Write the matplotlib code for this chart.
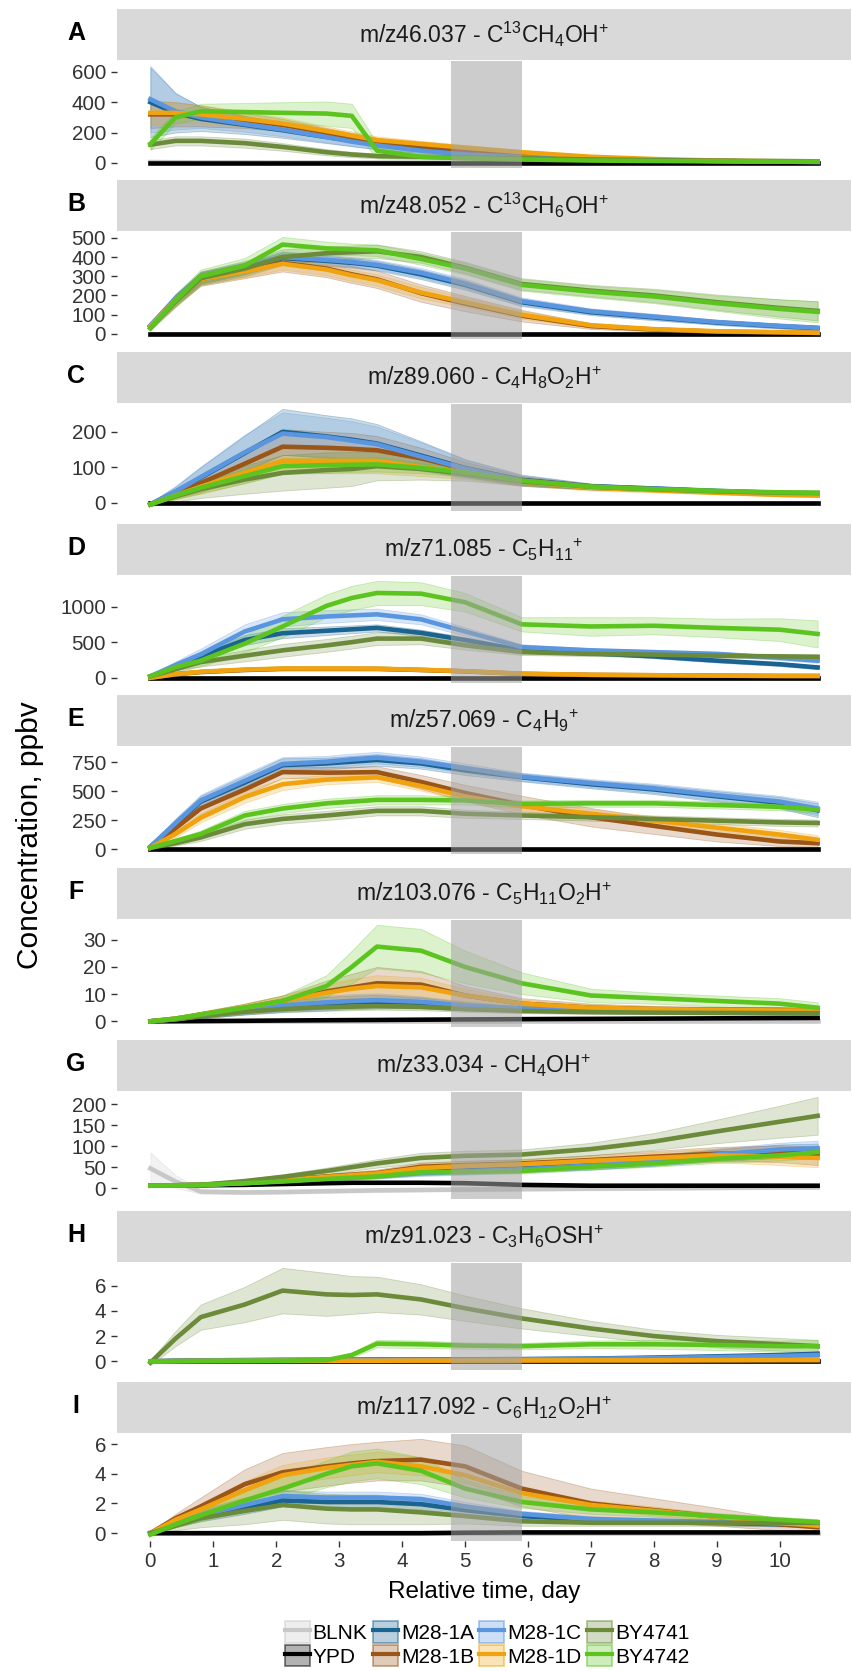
import matplotlib
matplotlib.use("Agg")
import matplotlib.pyplot as plt
from matplotlib.patches import Patch
from matplotlib.lines import Line2D
from matplotlib.colors import to_rgba

plt.rcParams["font.family"] = ["Liberation Sans", "DejaVu Sans"]
plt.rcParams["mathtext.fontset"] = "custom"
plt.rcParams["mathtext.rm"] = "Liberation Sans"
plt.rcParams["mathtext.it"] = "Liberation Sans:italic"
plt.rcParams["mathtext.bf"] = "Liberation Sans:bold"
plt.rcParams["mathtext.default"] = "rm"

# sampling days
DAYS = [0, 0.4, 0.8, 1.5, 2.1, 2.8, 3.2, 3.6, 4.3, 5.0, 5.9, 7.0, 8.0, 9.0, 10.0, 10.6]
SERIES = ["BLNK", "YPD", "M28-1A", "M28-1B", "M28-1C", "M28-1D", "BY4741", "BY4742"]
COLORS = {
    "BLNK": "#c8c8c8",
    "YPD": "#000000",
    "M28-1A": "#1b6391",
    "M28-1B": "#9a5518",
    "M28-1C": "#5a96e0",
    "M28-1D": "#f0a30f",
    "BY4741": "#6b8a3a",
    "BY4742": "#5cc41e",
}
ZERO = [0, 0, 0, 0, 0, 0, 0, 0, 0, 0, 0, 0, 0, 0, 0, 0]
THIN = [1, 1, 1, 1, 1, 1, 1, 1, 1, 1, 1, 1, 1, 1, 1, 1]

# A  m/z46.037
a_blnk = [5, 4, 3, 3, 2, 2, 2, 2, 2, 2, 2, 2, 2, 2, 2, 2]
a_blnk_sd = [4, 3, 3, 2, 2, 2, 2, 2, 2, 2, 2, 2, 2, 2, 2, 2]
a_ypd = [0, 0, 0, 0, 0, 0, 0, 0, 0, 0, 0, 0, 0, 0, 0, 0]
a_ypd_sd = [2, 2, 2, 2, 2, 2, 2, 2, 2, 2, 2, 2, 2, 2, 2, 2]
a_m1a = [400, 330, 290, 250, 215, 170, 145, 120, 85, 60, 40, 25, 18, 12, 8, 6]
a_m1a_sd = [230, 130, 80, 60, 50, 40, 35, 30, 20, 15, 10, 8, 6, 5, 4, 4]
a_m1b = [320, 320, 310, 280, 250, 200, 170, 140, 110, 85, 60, 35, 20, 12, 8, 6]
a_m1b_sd = [90, 80, 70, 50, 40, 30, 28, 25, 20, 15, 12, 8, 6, 5, 4, 4]
a_m1c = [420, 340, 300, 255, 220, 170, 140, 115, 80, 55, 38, 24, 17, 12, 8, 6]
a_m1c_sd = [220, 120, 70, 50, 45, 35, 30, 25, 18, 14, 10, 8, 6, 5, 4, 4]
a_m1d = [330, 330, 320, 290, 260, 210, 180, 150, 125, 100, 70, 40, 25, 15, 10, 8]
a_m1d_sd = [80, 70, 60, 50, 40, 30, 28, 25, 20, 18, 14, 10, 7, 5, 4, 4]
a_by41 = [120, 145, 145, 130, 105, 70, 55, 45, 40, 35, 30, 22, 18, 14, 12, 10]
a_by41_sd = [30, 30, 30, 30, 25, 20, 18, 15, 12, 10, 8, 6, 5, 5, 4, 4]
a_by42 = [125, 300, 340, 335, 330, 325, 310, 80, 40, 30, 22, 15, 12, 10, 8, 8]
a_by42_sd = [40, 40, 50, 60, 70, 80, 80, 50, 15, 10, 8, 6, 5, 5, 4, 4]

# B  m/z48.052
b_blnk = [2, 2, 2, 2, 2, 2, 2, 2, 2, 2, 2, 2, 2, 2, 2, 2]
b_ypd = [0, 0, 0, 0, 0, 0, 0, 0, 0, 0, 0, 0, 0, 0, 0, 0]
b_m1a = [40, 180, 290, 340, 395, 380, 370, 355, 310, 255, 165, 113, 86, 59, 40, 30]
b_m1a_sd = [10, 25, 30, 30, 30, 25, 25, 25, 25, 25, 20, 15, 15, 12, 12, 12]
b_m1b = [40, 175, 285, 330, 370, 340, 310, 284, 212, 158, 95, 41, 23, 12, 8, 5]
b_m1b_sd = [10, 30, 35, 40, 45, 45, 45, 45, 45, 40, 30, 15, 10, 8, 6, 5]
b_m1c = [45, 185, 295, 345, 400, 385, 375, 360, 318, 262, 170, 118, 90, 62, 42, 32]
b_m1c_sd = [10, 25, 30, 30, 30, 25, 25, 25, 25, 25, 20, 15, 15, 12, 12, 12]
b_m1d = [40, 175, 285, 325, 365, 335, 305, 280, 215, 165, 100, 45, 25, 14, 9, 6]
b_m1d_sd = [10, 25, 30, 30, 30, 30, 30, 30, 30, 25, 20, 12, 8, 6, 5, 5]
b_by41 = [30, 170, 290, 340, 400, 420, 425, 430, 400, 345, 260, 225, 200, 165, 135, 120]
b_by41_sd = [10, 30, 35, 40, 40, 35, 35, 35, 30, 30, 30, 30, 35, 40, 45, 50]
b_by42 = [30, 175, 300, 355, 465, 445, 440, 435, 390, 340, 255, 220, 195, 160, 130, 115]
b_by42_sd = [10, 30, 35, 40, 40, 35, 30, 30, 30, 30, 30, 30, 35, 40, 50, 55]

# C  m/z89.060
c_blnk = [0, 0, 0, 0, 0, 0, 0, 0, 0, 0, 0, 0, 0, 0, 0, 0]
c_ypd = [0, 0, 0, 0, 0, 0, 0, 0, 0, 0, 0, 0, 0, 0, 0, 0]
c_m1a = [-5, 30, 70, 140, 200, 187, 178, 167, 133, 98, 64, 46, 40, 33, 27, 25]
c_m1a_sd = [5, 15, 30, 50, 65, 60, 60, 55, 40, 25, 15, 8, 6, 5, 5, 5]
c_m1b = [-5, 25, 55, 110, 158, 155, 152, 148, 125, 95, 63, 45, 38, 30, 24, 22]
c_m1b_sd = [5, 12, 25, 40, 50, 45, 45, 40, 30, 20, 12, 8, 6, 5, 5, 5]
c_m1c = [-5, 32, 72, 142, 195, 185, 175, 165, 130, 96, 62, 45, 39, 32, 26, 24]
c_m1c_sd = [5, 15, 30, 50, 60, 55, 55, 50, 40, 25, 15, 8, 6, 5, 5, 5]
c_m1d = [-5, 20, 45, 85, 118, 118, 118, 118, 100, 85, 60, 42, 35, 28, 22, 20]
c_m1d_sd = [5, 10, 20, 30, 35, 35, 35, 35, 25, 18, 12, 8, 6, 5, 5, 5]
c_by41 = [-5, 18, 38, 65, 84, 92, 95, 103, 95, 82, 60, 45, 38, 32, 28, 27]
c_by41_sd = [5, 15, 25, 40, 50, 50, 48, 40, 30, 20, 12, 8, 6, 5, 5, 5]
c_by42 = [-5, 20, 42, 75, 103, 106, 107, 108, 98, 85, 62, 45, 38, 33, 29, 28]
c_by42_sd = [5, 10, 15, 20, 22, 22, 20, 20, 15, 12, 8, 6, 5, 5, 5, 5]

# D  m/z71.085
d_blnk = [0, 0, 0, 0, 0, 0, 0, 0, 0, 0, 0, 0, 0, 0, 0, 0]
d_ypd = [0, 0, 0, 0, 0, 0, 0, 0, 0, 0, 0, 0, 0, 0, 0, 0]
d_m1a = [20, 160, 300, 530, 625, 660, 680, 700, 630, 530, 385, 345, 300, 240, 190, 145]
d_m1a_sd = [10, 40, 60, 70, 70, 60, 55, 50, 45, 40, 30, 25, 25, 25, 25, 25]
d_m1b = [0, 50, 80, 110, 125, 125, 125, 125, 110, 90, 55, 40, 35, 30, 25, 25]
d_m1b_sd = [5, 10, 15, 20, 20, 20, 20, 20, 20, 15, 10, 10, 10, 10, 10, 10]
d_m1c = [20, 180, 330, 650, 820, 860, 875, 890, 820, 650, 430, 385, 360, 335, 280, 240]
d_m1c_sd = [10, 50, 80, 100, 100, 90, 85, 80, 70, 60, 40, 30, 30, 30, 30, 30]
d_m1d = [0, 50, 85, 115, 130, 130, 130, 128, 112, 92, 58, 42, 36, 30, 26, 25]
d_m1d_sd = [5, 10, 15, 20, 20, 20, 20, 20, 20, 15, 10, 10, 10, 10, 10, 10]
d_by41 = [20, 120, 220, 310, 385, 455, 500, 550, 550, 455, 360, 335, 325, 310, 300, 295]
d_by41_sd = [10, 40, 60, 80, 90, 90, 90, 90, 80, 60, 40, 30, 30, 30, 30, 30]
d_by42 = [20, 150, 240, 480, 720, 1010, 1120, 1190, 1180, 1060, 750, 720, 730, 700, 675, 615]
d_by42_sd = [10, 40, 80, 120, 150, 160, 170, 170, 160, 130, 100, 130, 120, 130, 160, 190]

# E  m/z57.069
e_blnk = [0, 0, 0, 0, 0, 0, 0, 0, 0, 0, 0, 0, 0, 0, 0, 0]
e_ypd = [0, 0, 0, 0, 0, 0, 0, 0, 0, 0, 0, 0, 0, 0, 0, 0]
e_m1a = [20, 215, 410, 575, 725, 740, 755, 770, 740, 680, 620, 560, 515, 455, 400, 335]
e_m1a_sd = [10, 40, 50, 60, 60, 50, 50, 50, 45, 40, 35, 35, 40, 45, 50, 60]
e_m1b = [10, 180, 350, 515, 665, 660, 662, 665, 580, 485, 380, 275, 200, 125, 65, 50]
e_m1b_sd = [10, 40, 50, 50, 50, 50, 50, 50, 60, 70, 80, 80, 70, 60, 40, 30]
e_m1c = [20, 225, 420, 590, 735, 755, 775, 790, 755, 700, 625, 570, 525, 465, 410, 350]
e_m1c_sd = [10, 40, 50, 60, 60, 50, 50, 50, 45, 40, 35, 35, 40, 45, 50, 60]
e_m1d = [10, 130, 270, 450, 560, 600, 610, 620, 545, 455, 370, 305, 245, 185, 125, 80]
e_m1d_sd = [10, 30, 40, 50, 50, 40, 40, 40, 40, 40, 40, 40, 40, 40, 40, 40]
e_by41 = [10, 50, 100, 215, 260, 290, 310, 330, 330, 305, 290, 275, 260, 245, 230, 225]
e_by41_sd = [5, 20, 30, 40, 40, 40, 40, 40, 40, 35, 30, 30, 30, 30, 30, 30]
e_by42 = [10, 70, 130, 290, 350, 395, 410, 425, 425, 420, 390, 395, 395, 380, 365, 340]
e_by42_sd = [5, 20, 30, 40, 40, 40, 40, 40, 40, 35, 30, 30, 30, 30, 30, 30]

# F  m/z103.076
f_blnk = [0, 0, 0, 0, 0, 0, 0, 0, 0, 0, 0, 0, 0, 0, 0, 0]
f_ypd = [0, 0.05, 0.1, 0.2, 0.3, 0.4, 0.45, 0.5, 0.6, 0.7, 0.8, 0.9, 1.0, 1.1, 1.2, 1.25]
f_ypd_sd = [0.1, 0.1, 0.1, 0.1, 0.1, 0.1, 0.1, 0.1, 0.1, 0.1, 0.1, 0.1, 0.1, 0.1, 0.1, 0.1]
f_m1a = [0, 0.8, 2, 4, 5.5, 6.5, 7, 7.2, 6.8, 5.5, 4.5, 4, 3.8, 3.7, 3.6, 3.5]
f_m1a_sd = [0.3, 0.5, 1, 1.5, 2, 2.5, 2.5, 2.5, 2, 1.5, 1, 1, 1, 1, 1, 1]
f_m1b = [0, 1, 2.5, 5, 7.5, 11, 12.5, 14, 13.5, 9.5, 6.5, 5, 4.5, 4.3, 4.2, 4]
f_m1b_sd = [0.3, 0.5, 1, 1.5, 2, 4, 5, 6, 5, 3.5, 2, 1.5, 1.2, 1, 1, 1]
f_m1c = [0, 0.8, 2, 4.2, 5.8, 7, 7.5, 7.8, 7.2, 5.8, 4.7, 4.1, 3.9, 3.8, 3.7, 3.6]
f_m1c_sd = [0.3, 0.5, 1, 1.5, 2, 2.5, 2.5, 2.5, 2, 1.5, 1, 1, 1, 1, 1, 1]
f_m1d = [0, 1, 2.5, 5, 7.5, 10.5, 12, 13, 12.5, 9.5, 6.5, 5, 4.5, 4.2, 4, 4]
f_m1d_sd = [0.3, 0.5, 1, 1.5, 2, 3, 3.5, 4, 3.5, 2.5, 1.5, 1.2, 1, 1, 1, 1]
f_by41 = [0, 0.7, 1.8, 3.5, 4.5, 5.2, 5.4, 5.6, 5.3, 4.5, 3.8, 3.4, 3.2, 3.1, 3.0, 3.0]
f_by41_sd = [0.3, 0.4, 0.6, 1, 1.2, 1.3, 1.3, 1.3, 1.2, 1, 0.8, 0.7, 0.6, 0.6, 0.6, 0.6]
f_by42 = [0, 1, 2.5, 5, 7.5, 13, 20, 27.5, 26, 20, 14, 9.5, 8.5, 7.5, 6.5, 5]
f_by42_sd = [0.3, 0.5, 1, 1.5, 2, 4, 6, 8, 8, 6, 4, 2.5, 2, 2, 2, 2]

# G  m/z33.034
g_blnk = [47, 16, -8, -10, -9, -7, -6, -5, -4, -3, -2, -1, 0, 1, 2, 2]
g_blnk_sd = [38, 15, 5, 4, 4, 4, 4, 4, 4, 4, 4, 4, 4, 4, 4, 4]
g_ypd = [6, 7, 7, 8, 10, 12, 13, 13, 13, 12, 8, 6, 6, 6, 6, 6]
g_ypd_sd = [1, 1, 1, 1, 1, 1, 1, 1, 1, 1, 1, 1, 1, 1, 1, 1]
g_m1a = [6, 7, 8, 12, 18, 24, 27, 30, 38, 42, 47, 55, 65, 78, 88, 88]
g_m1a_sd = [2, 2, 2, 3, 4, 5, 5, 6, 7, 8, 8, 10, 12, 14, 16, 18]
g_m1b = [6, 7, 8, 14, 20, 28, 32, 36, 51, 55, 59, 67, 75, 82, 82, 77]
g_m1b_sd = [2, 2, 3, 4, 5, 6, 7, 8, 10, 10, 10, 12, 14, 16, 20, 22]
g_m1c = [6, 7, 8, 12, 17, 23, 26, 29, 36, 40, 45, 54, 66, 80, 92, 95]
g_m1c_sd = [2, 2, 2, 3, 4, 5, 5, 6, 7, 8, 8, 10, 12, 14, 16, 18]
g_m1d = [6, 7, 8, 13, 19, 27, 31, 35, 48, 53, 57, 65, 72, 78, 75, 72]
g_m1d_sd = [2, 2, 3, 4, 5, 6, 7, 8, 10, 10, 10, 12, 14, 16, 20, 22]
g_by41 = [6, 7, 8, 17, 27, 41, 50, 59, 72, 77, 80, 93, 111, 135, 158, 172]
g_by41_sd = [2, 2, 3, 5, 6, 8, 9, 10, 12, 12, 12, 15, 20, 28, 38, 45]
g_by42 = [6, 7, 8, 12, 16, 22, 25, 28, 38, 39, 41, 51, 59, 70, 78, 86]
g_by42_sd = [2, 2, 2, 3, 3, 4, 4, 5, 5, 5, 6, 7, 8, 10, 12, 14]

# H  m/z91.023
h_blnk = [0, 0, 0, 0, 0, 0, 0, 0, 0, 0, 0, 0, 0, 0, 0, 0]
h_ypd = [0, 0, 0, 0, 0, 0, 0, 0, 0, 0, 0, 0, 0, 0, 0, 0]
h_m1a = [0, 0.05, 0.08, 0.1, 0.12, 0.13, 0.14, 0.15, 0.15, 0.16, 0.18, 0.22, 0.3, 0.4, 0.5, 0.6]
h_m1b = [0, 0.02, 0.03, 0.03, 0.04, 0.05, 0.05, 0.05, 0.06, 0.06, 0.07, 0.08, 0.08, 0.09, 0.1, 0.1]
h_m1c = [0, 0.04, 0.06, 0.08, 0.1, 0.11, 0.12, 0.12, 0.13, 0.14, 0.16, 0.2, 0.26, 0.34, 0.42, 0.5]
h_m1d = [0, 0.02, 0.03, 0.03, 0.04, 0.05, 0.05, 0.05, 0.06, 0.06, 0.07, 0.08, 0.08, 0.09, 0.1, 0.1]
h_small_sd = [0.05, 0.05, 0.05, 0.05, 0.05, 0.05, 0.05, 0.05, 0.05, 0.05, 0.06, 0.08, 0.1, 0.12, 0.15, 0.18]
h_by41 = [-0.1, 1.8, 3.5, 4.5, 5.6, 5.3, 5.25, 5.3, 4.9, 4.2, 3.4, 2.6, 2.0, 1.6, 1.35, 1.2]
h_by41_sd = [0.2, 0.6, 1.0, 1.4, 1.8, 1.7, 1.5, 1.4, 1.2, 1.0, 0.8, 0.6, 0.5, 0.5, 0.5, 0.5]
h_by42 = [0, 0.02, 0.03, 0.05, 0.05, 0.1, 0.5, 1.4, 1.35, 1.25, 1.2, 1.35, 1.35, 1.3, 1.2, 1.2]
h_by42_sd = [0.05, 0.05, 0.05, 0.05, 0.05, 0.1, 0.2, 0.3, 0.3, 0.25, 0.25, 0.3, 0.35, 0.4, 0.45, 0.5]

# I  m/z117.092
i_blnk = [0, 0, 0, 0, 0, 0, 0, 0, 0, 0, 0, 0, 0, 0, 0, 0]
i_ypd = [0, 0, 0, 0, 0, 0, 0, 0, 0, 0.03, 0.05, 0.05, 0.05, 0.05, 0.05, 0.05]
i_m1a = [0, 0.6, 1.1, 1.7, 2.2, 2.1, 2.1, 2.1, 1.95, 1.55, 1.15, 0.9, 0.8, 0.7, 0.6, 0.55]
i_m1a_sd = [0.1, 0.2, 0.3, 0.4, 0.4, 0.4, 0.4, 0.4, 0.35, 0.3, 0.2, 0.2, 0.15, 0.15, 0.15, 0.15]
i_m1b = [0, 1.0, 1.8, 3.3, 4.1, 4.5, 4.7, 4.85, 4.95, 4.5, 3.0, 2.0, 1.55, 1.1, 0.6, 0.4]
i_m1b_sd = [0.1, 0.3, 0.6, 1.0, 1.3, 1.3, 1.3, 1.3, 1.4, 1.4, 1.2, 1.0, 0.8, 0.6, 0.4, 0.3]
i_m1c = [0, 0.65, 1.2, 1.9, 2.5, 2.4, 2.4, 2.4, 2.3, 1.8, 1.3, 0.95, 0.85, 0.75, 0.65, 0.6]
i_m1c_sd = [0.1, 0.2, 0.3, 0.4, 0.4, 0.4, 0.4, 0.4, 0.35, 0.3, 0.2, 0.2, 0.15, 0.15, 0.15, 0.15]
i_m1d = [0, 0.9, 1.6, 2.9, 3.9, 4.4, 4.6, 4.8, 4.5, 3.9, 2.7, 1.9, 1.5, 1.1, 0.7, 0.5]
i_m1d_sd = [0.1, 0.2, 0.4, 0.6, 0.7, 0.7, 0.7, 0.7, 0.6, 0.5, 0.4, 0.3, 0.3, 0.2, 0.2, 0.2]
i_by41 = [0, 0.5, 1.0, 1.5, 1.9, 1.65, 1.6, 1.6, 1.4, 1.15, 0.8, 0.7, 0.7, 0.7, 0.7, 0.7]
i_by41_sd = [0.1, 0.3, 0.6, 0.9, 1.0, 1.0, 1.0, 1.0, 0.8, 0.5, 0.3, 0.2, 0.2, 0.2, 0.2, 0.2]
i_by42 = [-0.1, 0.6, 1.2, 2.2, 3.0, 4.0, 4.5, 4.7, 4.2, 3.0, 2.1, 1.6, 1.4, 1.15, 0.9, 0.75]
i_by42_sd = [0.1, 0.2, 0.4, 0.6, 0.8, 0.9, 1.0, 1.0, 0.9, 0.6, 0.4, 0.3, 0.3, 0.2, 0.2, 0.2]

LETTERS = ["A", "B", "C", "D", "E", "F", "G", "H", "I"]
TITLES = [
    r"m/z46.037 - C$^{13}$CH$_4$OH$^{+}$",
    r"m/z48.052 - C$^{13}$CH$_6$OH$^{+}$",
    r"m/z89.060 - C$_4$H$_8$O$_2$H$^{+}$",
    r"m/z71.085 - C$_5$H$_{11}$$^{+}$",
    r"m/z57.069 - C$_4$H$_9$$^{+}$",
    r"m/z103.076 - C$_5$H$_{11}$O$_2$H$^{+}$",
    r"m/z33.034 - CH$_4$OH$^{+}$",
    r"m/z91.023 - C$_3$H$_6$OSH$^{+}$",
    r"m/z117.092 - C$_6$H$_{12}$O$_2$H$^{+}$",
]
YTICKS = [
    [0, 200, 400, 600],
    [0, 100, 200, 300, 400, 500],
    [0, 100, 200],
    [0, 500, 1000],
    [0, 250, 500, 750],
    [0, 10, 20, 30],
    [0, 50, 100, 150, 200],
    [0, 2, 4, 6],
    [0, 2, 4, 6],
]

# per panel: series -> (mean, half width of band)
panels = [
    {"BLNK": (a_blnk, a_blnk_sd), "YPD": (a_ypd, a_ypd_sd), "M28-1A": (a_m1a, a_m1a_sd),
     "M28-1B": (a_m1b, a_m1b_sd), "M28-1C": (a_m1c, a_m1c_sd), "M28-1D": (a_m1d, a_m1d_sd),
     "BY4741": (a_by41, a_by41_sd), "BY4742": (a_by42, a_by42_sd)},
    {"BLNK": (b_blnk, THIN), "YPD": (b_ypd, THIN), "M28-1A": (b_m1a, b_m1a_sd),
     "M28-1B": (b_m1b, b_m1b_sd), "M28-1C": (b_m1c, b_m1c_sd), "M28-1D": (b_m1d, b_m1d_sd),
     "BY4741": (b_by41, b_by41_sd), "BY4742": (b_by42, b_by42_sd)},
    {"BLNK": (c_blnk, THIN), "YPD": (c_ypd, THIN), "M28-1A": (c_m1a, c_m1a_sd),
     "M28-1B": (c_m1b, c_m1b_sd), "M28-1C": (c_m1c, c_m1c_sd), "M28-1D": (c_m1d, c_m1d_sd),
     "BY4741": (c_by41, c_by41_sd), "BY4742": (c_by42, c_by42_sd)},
    {"BLNK": (d_blnk, THIN), "YPD": (d_ypd, THIN), "M28-1A": (d_m1a, d_m1a_sd),
     "M28-1B": (d_m1b, d_m1b_sd), "M28-1C": (d_m1c, d_m1c_sd), "M28-1D": (d_m1d, d_m1d_sd),
     "BY4741": (d_by41, d_by41_sd), "BY4742": (d_by42, d_by42_sd)},
    {"BLNK": (e_blnk, THIN), "YPD": (e_ypd, THIN), "M28-1A": (e_m1a, e_m1a_sd),
     "M28-1B": (e_m1b, e_m1b_sd), "M28-1C": (e_m1c, e_m1c_sd), "M28-1D": (e_m1d, e_m1d_sd),
     "BY4741": (e_by41, e_by41_sd), "BY4742": (e_by42, e_by42_sd)},
    {"BLNK": (f_blnk, ZERO), "YPD": (f_ypd, f_ypd_sd), "M28-1A": (f_m1a, f_m1a_sd),
     "M28-1B": (f_m1b, f_m1b_sd), "M28-1C": (f_m1c, f_m1c_sd), "M28-1D": (f_m1d, f_m1d_sd),
     "BY4741": (f_by41, f_by41_sd), "BY4742": (f_by42, f_by42_sd)},
    {"BLNK": (g_blnk, g_blnk_sd), "YPD": (g_ypd, g_ypd_sd), "M28-1A": (g_m1a, g_m1a_sd),
     "M28-1B": (g_m1b, g_m1b_sd), "M28-1C": (g_m1c, g_m1c_sd), "M28-1D": (g_m1d, g_m1d_sd),
     "BY4741": (g_by41, g_by41_sd), "BY4742": (g_by42, g_by42_sd)},
    {"BLNK": (h_blnk, ZERO), "YPD": (h_ypd, ZERO), "M28-1A": (h_m1a, h_small_sd),
     "M28-1B": (h_m1b, h_small_sd), "M28-1C": (h_m1c, h_small_sd), "M28-1D": (h_m1d, h_small_sd),
     "BY4741": (h_by41, h_by41_sd), "BY4742": (h_by42, h_by42_sd)},
    {"BLNK": (i_blnk, ZERO), "YPD": (i_ypd, ZERO), "M28-1A": (i_m1a, i_m1a_sd),
     "M28-1B": (i_m1b, i_m1b_sd), "M28-1C": (i_m1c, i_m1c_sd), "M28-1D": (i_m1d, i_m1d_sd),
     "BY4741": (i_by41, i_by41_sd), "BY4742": (i_by42, i_by42_sd)},
]

W, H = 853, 1671
fig = plt.figure(figsize=(W / 100, H / 100), dpi=100)

PANEL_L, PANEL_R = 117, 851
PANEL_TOPS = [61, 232, 404, 576, 747, 920, 1092, 1263, 1434]
PANEL_H = 107
TXT = "#333333"


def box(left, top, width, height):
    return [left / W, 1 - (top + height) / H, width / W, height / H]


for k, data in enumerate(panels):
    top = PANEL_TOPS[k]
    ax = fig.add_axes(box(PANEL_L, top, PANEL_R - PANEL_L, PANEL_H))
    ymin, ymax = 0, 0
    for name in SERIES:
        mean, sd = data[name]
        lo = [m - s for m, s in zip(mean, sd)]
        hi = [m + s for m, s in zip(mean, sd)]
        ymin, ymax = min(ymin, min(lo)), max(ymax, max(hi))
        ax.fill_between(DAYS, lo, hi, facecolor=to_rgba(COLORS[name], 0.22),
                        edgecolor=to_rgba(COLORS[name], 0.3), lw=0.6)
    for name in SERIES:
        ax.plot(DAYS, data[name][0], color=COLORS[name], lw=3.3, solid_joinstyle="round")
    ax.axvspan(4.77, 5.9, color="#a3a3a3", alpha=0.55, lw=0, zorder=5)
    ax.set_xlim(-0.53, 11.13)
    # ggplot-like 5% expansion of the data range
    pad = 0.05 * (ymax - ymin)
    ax.set_ylim(ymin - pad, ymax + pad)
    ax.set_yticks(YTICKS[k])
    for sp in ax.spines.values():
        sp.set_visible(False)
    ax.tick_params(axis="y", length=4.5, width=1, color=TXT, labelsize=14.8,
                   labelcolor=TXT, pad=3.5)
    if k < 8:
        ax.set_xticks([])
    else:
        ax.set_xticks(range(11))
        ax.tick_params(axis="x", length=4.5, width=1, color=TXT, labelsize=14.8,
                       labelcolor=TXT, pad=3.5)

    strip = fig.add_axes(box(PANEL_L, top - 52, PANEL_R - PANEL_L, 51))
    strip.set_facecolor("#d9d9d9")
    strip.set_xticks([])
    strip.set_yticks([])
    for sp in strip.spines.values():
        sp.set_visible(False)
    strip.text(0.5, 0.5, TITLES[k], ha="center", va="center", fontsize=16.5, color="#1a1a1a")
    fig.text(76 / W, 1 - (top - 28) / H, LETTERS[k], ha="center", va="center",
             fontsize=18, fontweight="bold")

fig.text(484 / W, 1 - 1592 / H, "Relative time, day", ha="center", va="center", fontsize=17.5)
fig.text(30 / W, 1 - 835 / H, "Concentration, ppbv", ha="center", va="center",
         rotation=90, fontsize=21.5)

handles = []
for name in SERIES:
    c = COLORS[name]
    handles.append((Patch(facecolor=to_rgba(c, 0.3), edgecolor=to_rgba(c, 0.55), lw=1.2),
                    Line2D([], [], color=c, lw=3.0)))
fig.legend(handles, SERIES, ncol=4, loc="center", bbox_to_anchor=(487 / W, 1 - 1644 / H),
           frameon=False, fontsize=15, handlelength=1.2, handleheight=1.2,
           handletextpad=0.15, columnspacing=0.25, labelspacing=0.1, borderpad=0)

fig.savefig("out.png", dpi=100)
